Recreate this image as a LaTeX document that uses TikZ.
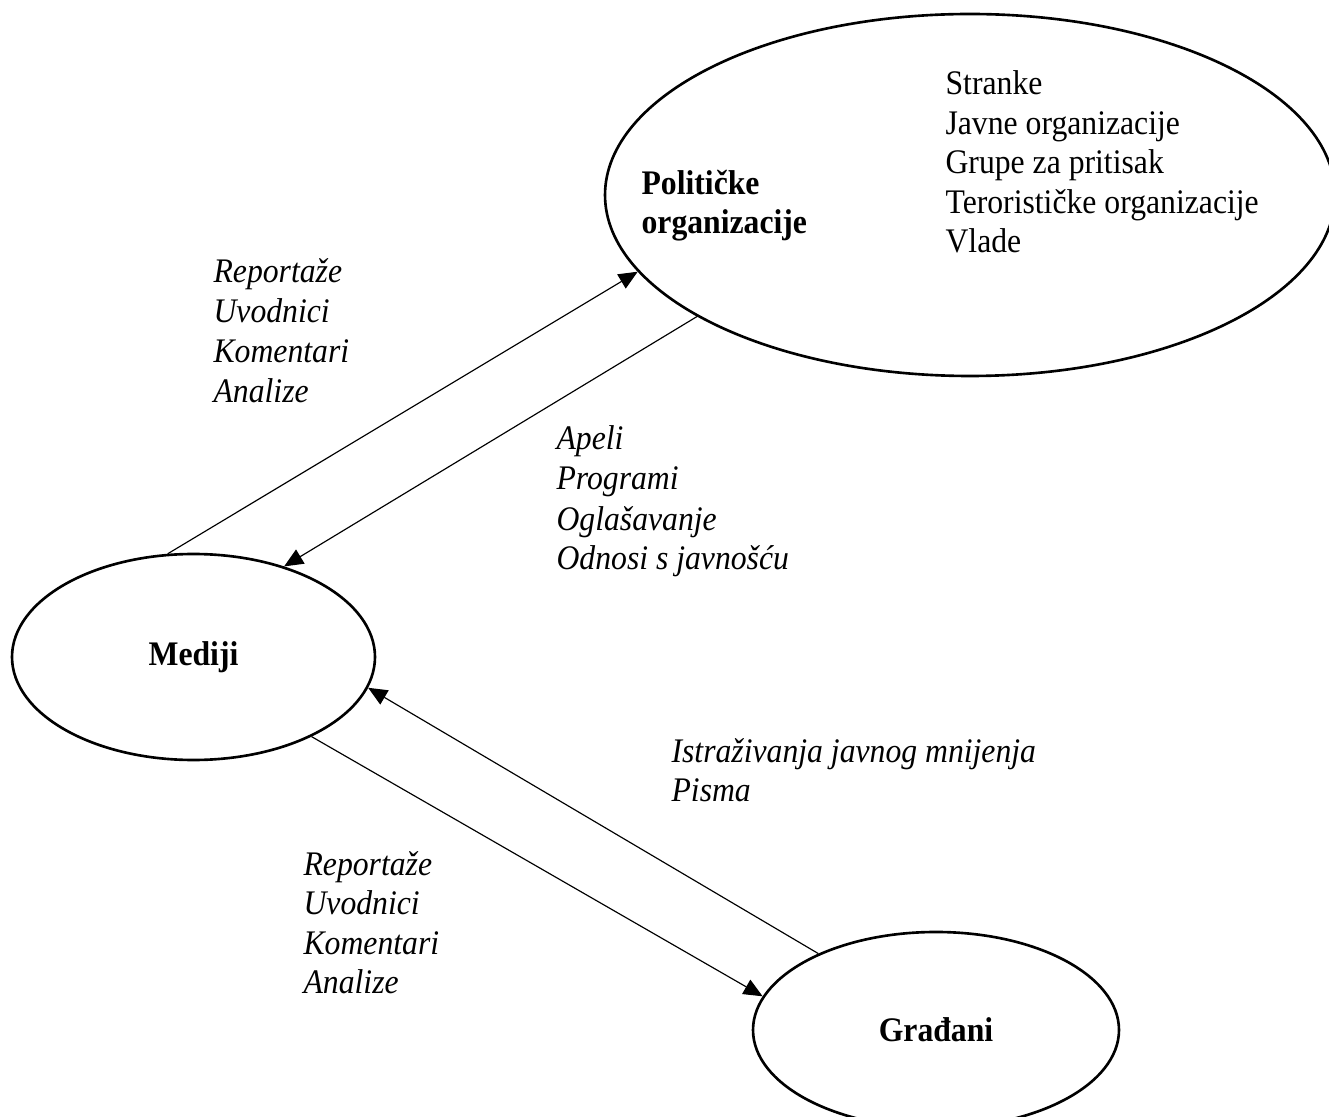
\documentclass[tikz,border=0pt]{standalone}
\usepackage{fontspec}
\setmainfont[FakeStretch=0.92]{Liberation Serif}
\usepackage{tikz}
\usetikzlibrary{
  arrows.meta,
  shapes.geometric,
}
\tikzstyle{blob} = [
  draw,
  ellipse,
  line width=0.9pt,
  inner sep=0pt,
  font=\fontsize{11.8}{13.6}\selectfont\bfseries,
]
\tikzstyle{arrow} = [
  -{Triangle[length=6.5pt,width=5.6pt]},
  line width=0.4pt,
]
\tikzstyle{entry} = [
  anchor=base west,
  inner sep=0pt,
  font=\fontsize{11.8}{13.6}\selectfont,
]
\tikzstyle{flow} = [
  entry,
  font=\fontsize{11.8}{13.6}\selectfont\itshape,
]

\begin{document}
\begin{tikzpicture}[x=0.012039cm, y=-0.012039cm]

        \useasboundingbox (0,0) rectangle (1329,1117);

        \node [blob, minimum width=8.788cm, minimum height=4.358cm] (pol) at (970,195) {};

        \node [blob, minimum width=4.370cm, minimum height=2.480cm] (med) at (193.5,657) {Mediji};

        \node [blob, minimum width=4.406cm, minimum height=2.360cm] (gra) at (936,1030) {Građani};

        \node [entry, font=\fontsize{11.8}{13.6}\selectfont\bfseries] (pol1) at (641,195) {Političke};
        \node [entry, font=\fontsize{11.8}{13.6}\selectfont\bfseries] (pol2) at (641,234) {organizacije};

        \foreach \txt [count=\i] in {Stranke, Javne organizacije, Grupe za pritisak, Terorističke organizacije, Vlade} {
          \node [entry] (org\i) at (945, {95 + 39.5*(\i-1)}) {\txt};
        }

        \foreach \txt [count=\i] in {Reportaže, Uvodnici, Komentari, Analize} {
          \node [flow] (up\i) at (213, {283 + 39.7*(\i-1)}) {\txt};
        }

        \foreach \txt [count=\i] in {Apeli, Programi, Oglašavanje, Odnosi s javnošću} {
          \node [flow] (ap\i) at (556, {450 + 40*(\i-1)}) {\txt};
        }

        \foreach \txt [count=\i] in {Istraživanja javnog mnijenja, Pisma} {
          \node [flow] (ist\i) at (671, {762 + 39*(\i-1)}) {\txt};
        }

        \foreach \txt [count=\i] in {Reportaže, Uvodnici, Komentari, Analize} {
          \node [flow] (low\i) at (303, {875 + 39.5*(\i-1)}) {\txt};
        }

        \draw [arrow] (med.104) -- (pol.193);

        \draw [arrow] (pol.204) -- (med.45);

        \draw [arrow] (gra.147) -- (med.-10);

        \draw [arrow] (med.-34) -- (gra.169);
      \end{tikzpicture}
\end{document}
